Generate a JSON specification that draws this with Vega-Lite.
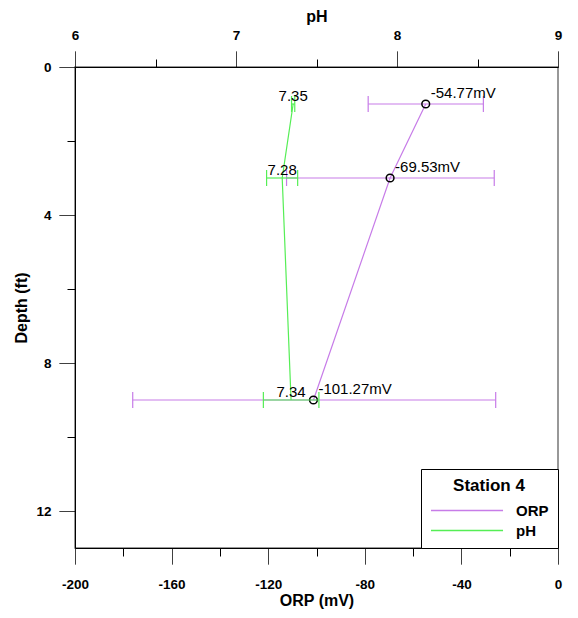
{
  "$schema": "https://vega.github.io/schema/vega-lite/v6.json",
  "width": 483,
  "height": 481,
  "autosize": {"type": "none"},
  "padding": {"left": 75, "top": 67, "right": 20, "bottom": 70},
  "config": {
    "font": "Liberation Sans",
    "view": {"stroke": "#777777", "strokeWidth": 1.5},
    "axis": {
      "grid": false,
      "domainColor": "#000000",
      "domainWidth": 1,
      "tickColor": "#000000",
      "tickSize": 16,
      "labelColor": "#000000",
      "labelFont": "Liberation Sans",
      "labelFontWeight": "bold",
      "labelFontSize": 13.5,
      "labelFlush": false,
      "labelBound": false,
      "labelOverlap": false,
      "titleColor": "#000000",
      "titleFont": "Liberation Sans",
      "titleFontWeight": "bold",
      "titleFontSize": 16
    },
    "legend": {
      "orient": "bottom-right",
      "offset": 0,
      "strokeColor": "#000000",
      "fillColor": "#ffffff",
      "padding": 9,
      "titleFont": "Liberation Sans",
      "titleFontSize": 17,
      "titleFontWeight": "bold",
      "titleColor": "#000000",
      "titleAnchor": "middle",
      "titlePadding": 4,
      "labelFont": "Liberation Sans",
      "labelFontSize": 15,
      "labelFontWeight": "bold",
      "labelColor": "#000000",
      "symbolType": "M-1,0H5.86",
      "symbolSize": 441,
      "symbolStrokeWidth": 1.3,
      "labelOffset": 63,
      "rowPadding": 0
    }
  },
  "datasets": {
    "orp": [
      {"depth": 1, "orp": -54.77, "lo": -78.6, "hi": -30.9, "label": "-54.77mV", "series": "ORP"},
      {"depth": 3, "orp": -69.53, "lo": -112.4, "hi": -26.4, "label": "-69.53mV", "series": "ORP"},
      {"depth": 9, "orp": -101.27, "lo": -176.1, "hi": -25.8, "label": "-101.27mV", "series": "ORP"}
    ],
    "ph": [
      {"depth": 1, "ph": 7.355, "lo": 7.345, "hi": 7.365, "label": "7.35", "series": "pH"},
      {"depth": 3, "ph": 7.287, "lo": 7.19, "hi": 7.383, "label": "7.28", "series": "pH"},
      {"depth": 9, "ph": 7.342, "lo": 7.17, "hi": 7.515, "label": "7.34", "series": "pH"}
    ]
  },
  "layer": [
    {
      "data": {"name": "orp"},
      "encoding": {
        "y": {
          "field": "depth",
          "type": "quantitative",
          "title": "Depth (ft)",
          "scale": {"domain": [0, 13], "reverse": true, "nice": false},
          "axis": {
            "values": [0, 2, 4, 6, 8, 10, 12],
            "labelExpr": "datum.value % 4 == 0 ? '' + datum.value : ''",
            "tickDash": {"condition": {"test": "datum.value % 4 != 0", "value": [8, 30]}, "value": [1, 0]},
            "labelPadding": 8,
            "titlePadding": 6
          }
        }
      },
      "layer": [
        {
          "mark": {"type": "rule", "color": "#c77ce8", "strokeWidth": 1.2},
          "encoding": {
            "x": {
              "field": "lo",
              "type": "quantitative",
              "title": "ORP (mV)",
              "scale": {"domain": [-200, 0], "nice": false},
              "axis": {
                "orient": "bottom",
                "values": [-200, -180, -160, -140, -120, -100, -80, -60, -40, -20, 0],
                "labelExpr": "datum.value % 40 == 0 ? '' + datum.value : ''",
                "tickDash": {"condition": {"test": "datum.value % 40 != 0", "value": [8, 30]}, "value": [1, 0]},
                "labelPadding": 13,
                "titlePadding": 2
              }
            },
            "x2": {"field": "hi"}
          }
        },
        {
          "mark": {"type": "rule", "color": "#c77ce8", "strokeWidth": 1.2, "yOffset": -8, "y2Offset": 8},
          "encoding": {
            "x": {"field": "lo", "type": "quantitative", "title": "ORP (mV)"},
            "y2": {"field": "depth"}
          }
        },
        {
          "mark": {"type": "rule", "color": "#c77ce8", "strokeWidth": 1.2, "yOffset": -8, "y2Offset": 8},
          "encoding": {
            "x": {"field": "hi", "type": "quantitative", "title": "ORP (mV)"},
            "y2": {"field": "depth"}
          }
        },
        {
          "mark": {"type": "line", "strokeWidth": 1.2},
          "encoding": {
            "x": {"field": "orp", "type": "quantitative", "title": "ORP (mV)"},
            "order": {"field": "depth", "type": "quantitative"},
            "color": {
              "field": "series",
              "type": "nominal",
              "title": "Station 4",
              "scale": {"domain": ["ORP", "pH"], "range": ["#c77ce8", "#55ee55"]}
            }
          }
        },
        {
          "mark": {"type": "point", "shape": "circle", "filled": false, "color": "#000000", "size": 60, "strokeWidth": 1.5, "opacity": 1},
          "encoding": {
            "x": {"field": "orp", "type": "quantitative", "title": "ORP (mV)"}
          }
        },
        {
          "mark": {"type": "text", "align": "left", "baseline": "alphabetic", "dx": 5, "dy": -6, "fontSize": 15, "font": "Liberation Sans", "color": "#000000"},
          "encoding": {
            "x": {"field": "orp", "type": "quantitative", "title": "ORP (mV)"},
            "text": {"field": "label"}
          }
        }
      ]
    },
    {
      "data": {"name": "ph"},
      "encoding": {
        "y": {
          "field": "depth",
          "type": "quantitative",
          "title": "Depth (ft)",
          "scale": {"domain": [0, 13], "reverse": true, "nice": false}
        }
      },
      "layer": [
        {
          "mark": {"type": "rule", "color": "#55ee55", "strokeWidth": 1.2},
          "encoding": {
            "x": {
              "field": "lo",
              "type": "quantitative",
              "title": "pH",
              "scale": {"domain": [6, 9], "nice": false},
              "axis": {
                "orient": "top",
                "values": [6, 6.5, 7, 7.5, 8, 8.5, 9],
                "labelExpr": "datum.value % 1 == 0 ? '' + datum.value : ''",
                "tickDash": {"condition": {"test": "datum.value % 1 != 0", "value": [8, 30]}, "value": [1, 0]},
                "labelPadding": 9,
                "titlePadding": 4
              }
            },
            "x2": {"field": "hi"}
          }
        },
        {
          "mark": {"type": "rule", "color": "#55ee55", "strokeWidth": 1.2, "yOffset": -8, "y2Offset": 8},
          "encoding": {
            "x": {"field": "lo", "type": "quantitative", "title": "pH"},
            "y2": {"field": "depth"}
          }
        },
        {
          "mark": {"type": "rule", "color": "#55ee55", "strokeWidth": 1.2, "yOffset": -8, "y2Offset": 8},
          "encoding": {
            "x": {"field": "hi", "type": "quantitative", "title": "pH"},
            "y2": {"field": "depth"}
          }
        },
        {
          "mark": {"type": "line", "strokeWidth": 1.2},
          "encoding": {
            "x": {"field": "ph", "type": "quantitative", "title": "pH"},
            "order": {"field": "depth", "type": "quantitative"},
            "color": {
              "field": "series",
              "type": "nominal",
              "title": "Station 4",
              "scale": {"domain": ["ORP", "pH"], "range": ["#c77ce8", "#55ee55"]}
            }
          }
        },
        {
          "mark": {"type": "text", "align": "center", "baseline": "alphabetic", "dy": -3, "fontSize": 15, "font": "Liberation Sans", "color": "#000000"},
          "encoding": {
            "x": {"field": "ph", "type": "quantitative", "title": "pH"},
            "text": {"field": "label"}
          }
        }
      ]
    }
  ],
  "resolve": {"scale": {"x": "independent"}, "axis": {"x": "independent"}}
}
